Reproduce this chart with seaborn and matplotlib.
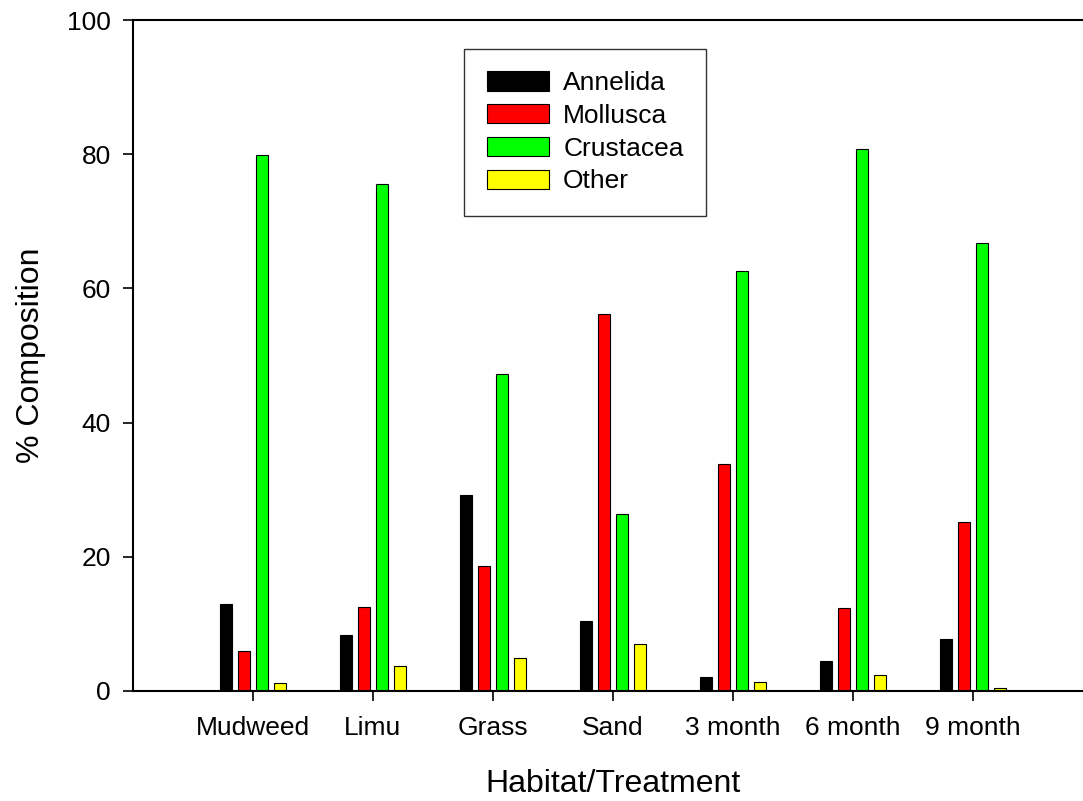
import pandas as pd
import matplotlib.pyplot as plt
import seaborn as sns

# ------------------------
# Data
# ------------------------
habitats = ["Mudweed", "Limu", "Grass", "Sand", "3 month", "6 month", "9 month"]
groups = ["Annelida", "Mollusca", "Crustacea", "Other"]

annelida = [13.0, 8.3, 29.2, 10.4, 2.1, 4.5, 7.7]
mollusca = [6.0, 12.5, 18.6, 56.2, 33.8, 12.4, 25.2]
crustacea = [79.9, 75.5, 47.2, 26.4, 62.6, 80.8, 66.8]
other = [1.2, 3.7, 4.9, 7.0, 1.3, 2.4, 0.4]

colors = ["#000000", "#ff0000", "#00ff00", "#ffff00"]

df = pd.DataFrame({
    "Habitat": habitats * 4,
    "Group": sum([[g] * len(habitats) for g in groups], []),
    "Value": annelida + mollusca + crustacea + other,
})

# ------------------------
# Plot
# ------------------------
sns.set_style("ticks")
plt.rcParams["font.family"] = ["Liberation Sans", "DejaVu Sans"]
plt.rcParams["text.color"] = "black"
plt.rcParams["axes.labelcolor"] = "black"

fig = plt.figure(figsize=(10.83, 8.01), dpi=100)
ax = fig.add_axes([133 / 1083, 110 / 801, 960 / 1083, 671 / 801])

sns.barplot(data=df, x="Habitat", y="Value", hue="Group", hue_order=groups,
            palette=colors, width=0.6, gap=1 / 3, edgecolor="black",
            linewidth=0.8, saturation=1, ax=ax)

ax.set_xlim(-1, 7)
ax.set_ylim(0, 100)
ax.set_yticks([0, 20, 40, 60, 80, 100])

for side in ["left", "bottom", "top", "right"]:
    ax.spines[side].set_linewidth(1.5)
    ax.spines[side].set_color("black")

ax.tick_params(axis="both", direction="out", length=7, width=1.2,
               labelsize=19, colors="black")
ax.tick_params(axis="y", pad=9)
ax.tick_params(axis="x", pad=11)

ax.set_xlabel("Habitat/Treatment", fontsize=23, labelpad=21)
ax.set_ylabel("% Composition", fontsize=23, labelpad=15)

handles, labels = ax.get_legend_handles_labels()
leg = ax.legend(handles, labels, loc="upper left", bbox_to_anchor=(0.345, 0.957),
                borderaxespad=0, fontsize=19, frameon=True, fancybox=False,
                handlelength=2.35, handleheight=0.75, handletextpad=0.55,
                labelspacing=0.33, borderpad=0.85)
leg.get_frame().set_edgecolor("black")
leg.get_frame().set_linewidth(1.0)

plt.savefig("out.png", dpi=100)
plt.close()
